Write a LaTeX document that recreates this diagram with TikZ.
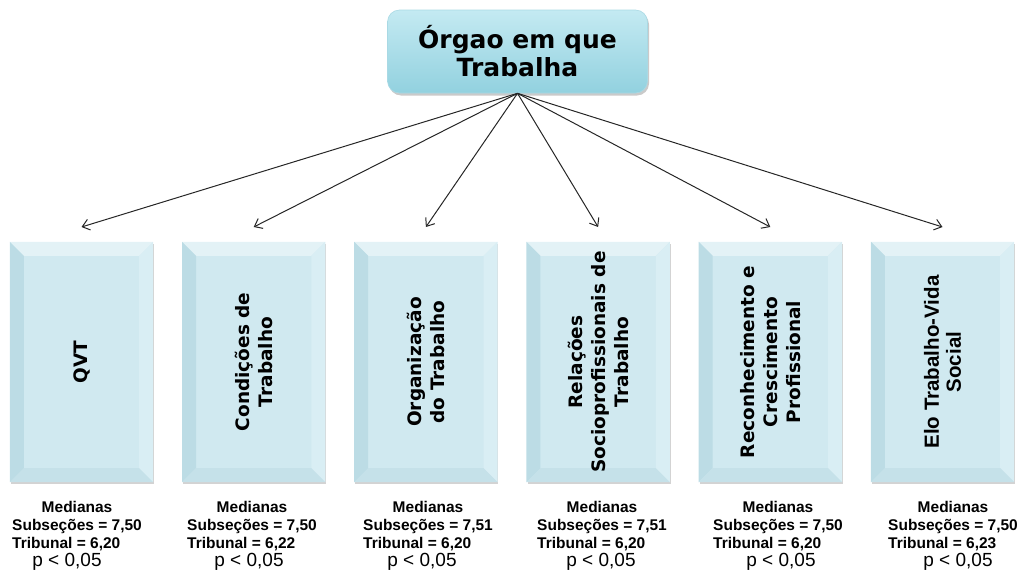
\documentclass[tikz,border=0pt]{standalone}
\usepackage{fontspec}
\setmainfont{Liberation Sans}
\newfontfamily\dvs{DejaVu Sans}
\usetikzlibrary{arrows.meta,shadows}
\definecolor{face}{HTML}{D0E9F0}
\definecolor{bevT}{HTML}{E3F2F6}
\definecolor{bevL}{HTML}{BCDCE5}
\definecolor{bevR}{HTML}{D9EEF4}
\definecolor{bevB}{HTML}{C5E1E9}
\definecolor{topA}{HTML}{C4EAF2}
\definecolor{topB}{HTML}{92D1DF}
\definecolor{topE}{HTML}{A9D9E4}
\begin{document}
\begin{tikzpicture}[x=1pt,y=-1pt,
  topbox/.style={rounded corners=12pt, minimum width=260pt, minimum height=83pt, inner sep=0pt,
    top color=topA, bottom color=topB, draw=topE, line width=0.6pt, align=center,
    font=\dvs\bfseries\fontsize{25}{28}\selectfont,
    drop shadow={shadow xshift=1.5pt, shadow yshift=-2.5pt, opacity=.35, fill=black!60}},
  catbox/.style={minimum width=143pt, minimum height=240pt, inner sep=0pt, fill=face,
    drop shadow={shadow xshift=1pt, shadow yshift=-2pt, opacity=.35, fill=black!50}},
  cattext/.style={rotate=90, align=center, inner sep=0pt, font=\dvs\bfseries\fontsize{18.5}{23}\selectfont},
  cattextb/.style={rotate=90, align=center, inner sep=0pt, font=\bfseries\fontsize{20.5}{22}\selectfont},
  arr/.style={-{Straight Barb[length=7pt,width=11pt]}, line width=1pt, draw=black!85},
  stat/.style={inner sep=0pt, anchor=base west, font=\bfseries\fontsize{15.5}{18}\selectfont},
  pval/.style={inner sep=0pt, anchor=base, font=\fontsize{19}{22}\selectfont}
]
\useasboundingbox (0,0) rectangle (1021,576);

\node[topbox] (top) at (517.5,51.5) {Órgao em que\\Trabalha};

\node[catbox] (b1) at (81.5,362) {};
\node[catbox] (b2) at (253.7,362) {};
\node[catbox] (b3) at (425.9,362) {};
\node[catbox] (b4) at (598.1,362) {};
\node[catbox] (b5) at (770.3,362) {};
\node[catbox] (b6) at (942.5,362) {};

\foreach \n in {1,...,6}{
  \fill[bevT] (b\n.north west) -- (b\n.north east) -- ([shift={(-14,14)}]b\n.north east) -- ([shift={(14,14)}]b\n.north west) -- cycle;
  \fill[bevL] (b\n.north west) -- ([shift={(14,14)}]b\n.north west) -- ([shift={(14,-14)}]b\n.south west) -- (b\n.south west) -- cycle;
  \fill[bevR] (b\n.north east) -- ([shift={(-14,14)}]b\n.north east) -- ([shift={(-14,-14)}]b\n.south east) -- (b\n.south east) -- cycle;
  \fill[bevB] (b\n.south west) -- ([shift={(14,-14)}]b\n.south west) -- ([shift={(-14,-14)}]b\n.south east) -- (b\n.south east) -- cycle;
}

\node[cattext] (t1) at (b1.center) {QVT};
\node[cattext] (t2) at (b2.center) {Condições de\\Trabalho};
\node[cattext] (t3) at (b3.center) {Organização\\do Trabalho};
\node[cattext] (t4) at (b4.center) {Relações\\Socioprofissionais de\\Trabalho};
\node[cattext] (t5) at (b5.center) {Reconhecimento e\\Crescimento\\Profissional};
\node[cattextb] (t6) at (b6.center) {Elo Trabalho-Vida\\Social};

\coordinate (a1) at (81.5,227);
\coordinate (a2) at (253.7,227);
\coordinate (a3) at (425.9,227);
\coordinate (a4) at (598.1,227);
\coordinate (a5) at (770.3,227);
\coordinate (a6) at (942.5,227);
\foreach \n in {1,...,6}{ \draw[arr] (top.south) -- (a\n); }

\node[stat] (s1) at (12,512) {\begin{tabular}[t]{@{}l@{}}\multicolumn{1}{@{}c@{}}{Medianas}\\Subseções = 7,50\\Tribunal = 6,20\end{tabular}};
\node[stat] (s2) at (187,512) {\begin{tabular}[t]{@{}l@{}}\multicolumn{1}{@{}c@{}}{Medianas}\\Subseções = 7,50\\Tribunal = 6,22\end{tabular}};
\node[stat] (s3) at (363,512) {\begin{tabular}[t]{@{}l@{}}\multicolumn{1}{@{}c@{}}{Medianas}\\Subseções = 7,51\\Tribunal = 6,20\end{tabular}};
\node[stat] (s4) at (537,512) {\begin{tabular}[t]{@{}l@{}}\multicolumn{1}{@{}c@{}}{Medianas}\\Subseções = 7,51\\Tribunal = 6,20\end{tabular}};
\node[stat] (s5) at (713,512) {\begin{tabular}[t]{@{}l@{}}\multicolumn{1}{@{}c@{}}{Medianas}\\Subseções = 7,50\\Tribunal = 6,20\end{tabular}};
\node[stat] (s6) at (888,512) {\begin{tabular}[t]{@{}l@{}}\multicolumn{1}{@{}c@{}}{Medianas}\\Subseções = 7,50\\Tribunal = 6,23\end{tabular}};

\node[pval] (p1) at (67,566) {p < 0,05};
\node[pval] (p2) at (249,566) {p < 0,05};
\node[pval] (p3) at (422,566) {p < 0,05};
\node[pval] (p4) at (601,566) {p < 0,05};
\node[pval] (p5) at (781,566) {p < 0,05};
\node[pval] (p6) at (958,566) {p < 0,05};
\end{tikzpicture}
\end{document}
